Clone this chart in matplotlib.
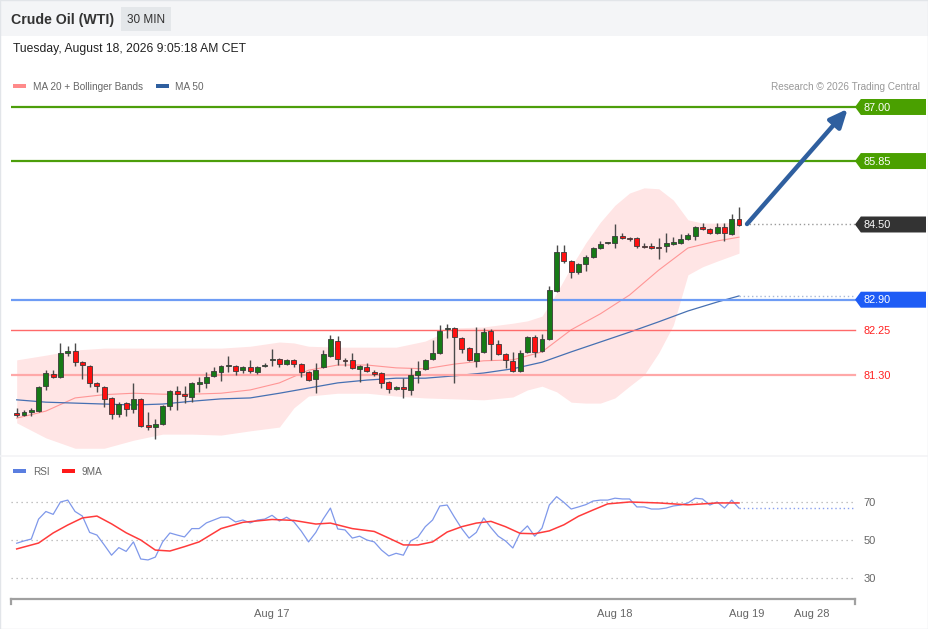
import matplotlib
matplotlib.use('Agg')
import matplotlib.pyplot as plt
from matplotlib.patches import Rectangle, Polygon

plt.rcParams['font.family'] = ['Liberation Sans', 'DejaVu Sans']

# ---- candles (30 min) ----
opens = [80.50, 80.45, 80.51, 80.53, 81.06, 81.32, 81.26, 81.77, 81.81, 81.57,
         81.49, 81.13, 81.04, 80.81, 80.47, 80.70, 80.57, 80.79, 80.23, 80.19,
         80.26, 80.64, 80.96, 80.89, 80.83, 81.11, 81.13, 81.28, 81.36, 81.50,
         81.49, 81.40, 81.47, 81.36, 81.49, 81.61, 81.64, 81.53, 81.62, 81.53,
         81.36, 81.21, 81.47, 81.70, 82.02, 81.61, 81.62, 81.43, 81.47, 81.36,
         81.34, 81.15, 81.00, 81.04, 80.98, 81.30, 81.43, 81.64, 81.77, 82.28,
         82.30, 82.09, 81.87, 81.60, 81.79, 82.23, 81.96, 81.74, 81.60, 81.38,
         81.79, 82.11, 81.81, 82.06, 83.09, 83.91, 83.72, 83.49, 83.66, 83.81,
         84.00, 84.10, 84.11, 84.26, 84.21, 84.21, 84.04, 84.04, 84.02, 84.04,
         84.09, 84.11, 84.19, 84.26, 84.45, 84.40, 84.32, 84.45, 84.30, 84.62]
highs = [80.60, 80.55, 80.60, 81.06, 81.40, 81.40, 81.98, 81.91, 81.98, 81.60,
         81.51, 81.15, 81.06, 80.83, 80.72, 80.72, 81.13, 80.81, 80.51, 80.36,
         80.66, 80.98, 81.06, 81.06, 81.15, 81.26, 81.36, 81.47, 81.51, 81.70,
         81.51, 81.49, 81.62, 81.49, 81.55, 81.85, 81.66, 81.64, 81.64, 81.55,
         81.38, 81.55, 81.83, 82.15, 82.13, 81.66, 81.77, 81.51, 81.55, 81.40,
         81.36, 81.17, 81.06, 81.23, 81.45, 81.60, 81.64, 82.04, 82.36, 82.38,
         82.32, 82.11, 81.89, 82.32, 82.30, 82.28, 82.04, 81.77, 81.79, 81.83,
         82.13, 82.15, 82.17, 83.19, 84.06, 84.06, 83.74, 83.68, 83.85, 84.02,
         84.15, 84.13, 84.51, 84.32, 84.23, 84.23, 84.11, 84.11, 84.21, 84.32,
         84.23, 84.30, 84.32, 84.47, 84.53, 84.43, 84.53, 84.53, 84.72, 84.87]
lows = [80.40, 80.43, 80.43, 80.51, 80.98, 81.23, 81.23, 81.70, 81.49, 81.21,
        81.04, 80.94, 80.62, 80.36, 80.40, 80.43, 80.49, 80.19, 80.13, 79.94,
        80.23, 80.55, 80.55, 80.70, 80.72, 80.94, 81.02, 81.26, 81.17, 81.36,
        81.30, 81.34, 81.34, 81.32, 81.47, 81.49, 81.47, 81.51, 81.47, 81.26,
        81.17, 80.91, 81.45, 81.68, 81.51, 81.49, 81.43, 81.15, 81.36, 81.28,
        81.02, 80.91, 80.98, 80.81, 80.87, 81.13, 81.40, 81.62, 81.74, 82.09,
        81.13, 81.77, 81.60, 81.47, 81.77, 81.62, 81.72, 81.45, 81.36, 81.36,
        81.77, 81.68, 81.79, 82.04, 83.06, 83.68, 83.36, 83.45, 83.51, 83.79,
        83.98, 84.09, 84.00, 84.19, 84.15, 84.00, 84.00, 83.98, 83.77, 83.91,
        84.06, 84.09, 84.17, 84.17, 84.38, 84.30, 84.30, 84.15, 84.28, 84.47]
closes = [80.45, 80.51, 80.55, 81.04, 81.34, 81.26, 81.77, 81.81, 81.57, 81.51,
          81.13, 81.06, 80.79, 80.47, 80.68, 80.57, 80.79, 80.21, 80.19, 80.26,
          80.64, 80.96, 80.89, 80.85, 81.13, 81.15, 81.26, 81.38, 81.49, 81.52,
          81.38, 81.47, 81.38, 81.47, 81.50, 81.63, 81.53, 81.62, 81.53, 81.36,
          81.19, 81.40, 81.74, 82.06, 81.64, 81.59, 81.45, 81.49, 81.38, 81.32,
          81.13, 81.00, 81.04, 81.00, 81.30, 81.38, 81.62, 81.77, 82.23, 82.30,
          82.11, 81.85, 81.62, 81.77, 82.21, 81.96, 81.74, 81.62, 81.38, 81.77,
          82.11, 81.79, 82.06, 83.11, 83.91, 83.72, 83.49, 83.66, 83.81, 84.00,
          84.09, 84.12, 84.26, 84.21, 84.20, 84.04, 84.03, 84.00, 84.01, 84.11,
          84.13, 84.19, 84.28, 84.45, 84.40, 84.32, 84.45, 84.32, 84.62, 84.49]

ma_idx = [0, 4, 8, 12, 16, 20, 24, 28, 32, 36, 40, 44, 48, 52, 56, 60, 64, 68,
          72, 76, 80, 84, 88, 92, 96, 99]
ma20 = [80.38, 80.53, 80.81, 80.88, 80.91, 80.89, 80.89, 80.91, 80.98, 81.13,
        81.40, 81.51, 81.51, 81.45, 81.43, 81.53, 81.60, 81.62, 81.79, 82.26,
        82.60, 83.00, 83.53, 84.00, 84.15, 84.23]
ma50 = [80.77, 80.72, 80.70, 80.68, 80.66, 80.68, 80.74, 80.79, 80.81, 80.91,
        81.02, 81.13, 81.19, 81.23, 81.23, 81.28, 81.34, 81.43, 81.57, 81.79,
        82.00, 82.21, 82.43, 82.66, 82.85, 82.98]

bb_idx = [0, 4, 8, 12, 16, 20, 24, 28, 32, 36, 38, 40, 44, 48, 52, 56, 60, 64,
          68, 70, 72, 74, 76, 78, 80, 82, 84, 86, 88, 90, 92, 94, 96, 99]
bb_upper = [81.62, 81.72, 81.83, 81.87, 81.87, 81.87, 81.87, 81.87, 81.91, 82.00,
            81.98, 81.91, 81.89, 81.89, 81.89, 82.02, 82.30, 82.32, 82.40, 82.45,
            82.55, 83.04, 83.60, 84.11, 84.55, 84.91, 85.17, 85.28, 85.26, 85.02,
            84.60, 84.53, 84.53, 84.55]
bb_lower = [80.28, 79.96, 79.74, 79.74, 79.91, 80.04, 80.04, 80.02, 80.11, 80.19,
            80.60, 80.85, 80.91, 80.91, 80.85, 80.81, 80.79, 80.77, 80.83, 80.98,
            81.06, 80.94, 80.72, 80.70, 80.70, 80.81, 81.06, 81.30, 81.77, 82.36,
            83.43, 83.60, 83.72, 83.89]

rsi = [48.3, 49.5, 50.5, 61, 65, 63.5, 70, 71, 65, 62.6,
       54, 52.6, 47.4, 42, 46, 44, 49, 40, 39.5, 41,
       49, 53.7, 52.6, 51.6, 56, 56, 59, 60.5, 62, 62,
       59.5, 60.5, 59, 60.5, 61, 63, 60, 62, 59.5, 54.7,
       49, 54, 61, 66.8, 55.8, 55.3, 51, 52, 50, 49,
       44.7, 41.6, 43, 42, 49.5, 51.6, 57, 60.5, 67.9, 68.4,
       62, 56, 51, 54, 61.6, 56.5, 52, 49.5, 45.8, 53.7,
       57.4, 52, 56.3, 68.4, 72.8, 69.8, 66.3, 67.4, 68.6, 70.5,
       71, 71, 72, 71.6, 71.6, 67.4, 67.4, 66.3, 66.3, 66.8,
       67.9, 68.4, 69.5, 72, 71.6, 68.4, 70, 66.8, 71, 66.8]
ma9_idx = [0, 3, 5, 7, 9, 11, 13, 15, 17, 19, 21, 23, 25, 28, 31, 35, 38, 41, 43,
           46, 49, 51, 53, 55, 57, 59, 61, 63, 65, 67, 69, 71, 73, 75, 77, 79, 81,
           84, 88, 92, 96, 99]
rsi_ma9 = [45.3, 48.4, 53.7, 57.9, 61.6, 62.6, 58.5, 53.8, 50, 44.7, 44.2, 46.5,
           49, 56, 59.3, 60.8, 60.3, 58.4, 58.9, 56, 54.5, 51, 47.4, 47.4, 49,
           54.2, 57, 58.9, 59.8, 57, 53.5, 53.3, 54.8, 58, 62.5, 65.8, 69, 70,
           69.5, 68.5, 69.5, 69.5]

# key levels
res_levels = [87.00, 85.85]
last_price = 84.50
pivot = 82.90
sup_levels = [82.25, 81.30]
target = 87.00

date_pos = [35, 82, 100.1, 109]
date_labels = ['Aug 17', 'Aug 18', 'Aug 19', 'Aug 28']
rsi_levels = [70, 50, 30]

# ---- figure ----
W, H = 929, 629
fig = plt.figure(figsize=(W / 100, H / 100), dpi=100)
fig.patch.set_facecolor('white')


def fx(px):
    return px / W


def fy(py):
    return 1 - py / H


# header strip and frame
fig.add_artist(Rectangle((0, fy(36)), 1, 1 - fy(36), transform=fig.transFigure,
                         facecolor='#f4f5f7', edgecolor='none'))
fig.add_artist(Rectangle((fx(121), fy(31)), fx(171) - fx(121), fy(7) - fy(31),
                         transform=fig.transFigure, facecolor='#e4e7ea', edgecolor='none'))
fig.add_artist(Rectangle((fx(0.5), fy(628.5)), fx(928) - fx(0.5), fy(0.5) - fy(628.5),
                         transform=fig.transFigure, facecolor='none',
                         edgecolor='#e2e5e9', lw=1))
fig.add_artist(plt.Line2D([fx(1), fx(928)], [fy(456), fy(456)], transform=fig.transFigure,
                          color='#f3f4f6', lw=1.2))

fig.text(fx(11), fy(20), 'Crude Oil (WTI)', fontsize=10.2, fontweight='bold',
         color='#333333', va='center')
fig.text(fx(146), fy(20), '30 MIN', fontsize=8.5, color='#333333', va='center', ha='center')
fig.text(fx(13), fy(49), 'Tuesday, August 18, 2026 9:05:18 AM CET', fontsize=8.7,
         color='#222222', va='center')

# legends
fig.add_artist(Rectangle((fx(13), fy(88)), fx(13) - fx(0), fy(84) - fy(88),
                         transform=fig.transFigure, facecolor='#ff8a8a', edgecolor='none'))
fig.text(fx(33), fy(87), 'MA 20 + Bollinger Bands', fontsize=7.2, color='#666666', va='center')
fig.add_artist(Rectangle((fx(156), fy(88)), fx(13) - fx(0), fy(84) - fy(88),
                         transform=fig.transFigure, facecolor='#2f5f9f', edgecolor='none'))
fig.text(fx(175), fy(87), 'MA 50', fontsize=7.2, color='#666666', va='center')
fig.text(fx(920), fy(87), 'Research \u00a9 2026 Trading Central', fontsize=7.2,
         color='#999999', va='center', ha='right')

fig.add_artist(Rectangle((fx(13), fy(473)), fx(13) - fx(0), fy(469) - fy(473),
                         transform=fig.transFigure, facecolor='#5a7ee0', edgecolor='none'))
fig.text(fx(33), fy(472), 'RSI', fontsize=7.2, color='#666666', va='center')
fig.add_artist(Rectangle((fx(62), fy(473)), fx(13) - fx(0), fy(469) - fy(473),
                         transform=fig.transFigure, facecolor='#ff1a1a', edgecolor='none'))
fig.text(fx(82), fy(472), '9MA', fontsize=7.2, color='#666666', va='center')

# ---- main price panel ----
X0, X1 = -0.78, 124.63
XE = 114.9  # right end of plotted lines
XL = 116.1  # label text x
ax = fig.add_axes([fx(11), fy(455), fx(926) - fx(11), fy(95) - fy(455)])
ax.set_xlim(X0, X1)
ax.set_ylim(79.596, 87.255)
ax.axis('off')

ax.fill_between(bb_idx, bb_lower, bb_upper, color='#ffe5e5', lw=0, zorder=1)
ax.plot(ma_idx, ma20, color='#ff9696', lw=0.8, zorder=2)
ax.plot(ma_idx, ma50, color='#4670b2', lw=0.9, zorder=2)

for lv in res_levels:
    ax.plot([X0, XE], [lv, lv], color='#4c9e0a', lw=1.6, zorder=3)
ax.plot([X0, XE], [pivot, pivot], color='#6e9cf5', lw=1.6, zorder=3)
ax.plot([X0, XE], [sup_levels[0], sup_levels[0]], color='#ff6a6a', lw=1.0, zorder=3)
ax.plot([X0, XE], [sup_levels[1], sup_levels[1]], color='#ffa8a8', lw=1.6, zorder=3)
ax.plot([99.8, XE], [last_price, last_price], color='#9a9a9a', lw=1, ls=(0, (1, 2)), zorder=3)
ax.plot([ma_idx[-1], XE], [ma50[-1], ma50[-1]], color='#a8b8d8', lw=1, ls=(0, (1, 2)), zorder=3)

# candles
idx = list(range(len(closes)))
ax.vlines(idx, lows, highs, color='#4a4a4a', lw=1, zorder=4)
bottoms = [min(o, c) for o, c in zip(opens, closes)]
heights = [max(abs(c - o), 0.02) for o, c in zip(opens, closes)]
colors = ['#167a16' if c >= o else '#ff1010' for o, c in zip(opens, closes)]
ax.bar(idx, heights, bottom=bottoms, width=0.68, color=colors, edgecolor='#3a3a3a',
       lw=0.6, zorder=5)

# target arrow
ax.annotate('', xy=(113.9, target - 0.04), xytext=(100.1, last_price + 0.01),
            arrowprops=dict(arrowstyle='-|>,head_length=0.9,head_width=0.4', lw=3.2,
                            color='#2f5f9f', shrinkA=0, shrinkB=0, mutation_scale=12),
            zorder=6)

# right-hand labels
hh = 0.17


def tag(level, face):
    ax.add_patch(Polygon([(XE, level), (115.7, level + hh), (X1, level + hh),
                          (X1, level - hh), (115.7, level - hh)], closed=True,
                         facecolor=face, edgecolor='none', zorder=6, clip_on=False))
    ax.text(XL, level - 0.015, f'{level:.2f}', color='white', fontsize=7.8, va='center',
            ha='left', zorder=7)


for lv in res_levels:
    tag(lv, '#4aa000')
tag(last_price, '#333333')
tag(pivot, '#1e5cf5')
for lv in sup_levels:
    ax.text(XL, lv - 0.015, f'{lv:.2f}', color='#ff2020', fontsize=7.8, va='center', ha='left')

# ---- RSI panel ----
ax2 = fig.add_axes([fx(11), fy(599), fx(926) - fx(11), fy(460) - fy(599)])
ax2.set_xlim(X0, X1)
ax2.set_ylim(18.95, 92.1)
for s in ['top', 'right', 'left']:
    ax2.spines[s].set_visible(False)
ax2.spines['bottom'].set_bounds(X0 + 0.05, XE)
ax2.spines['bottom'].set_color('#a0a0a0')
ax2.spines['bottom'].set_linewidth(1.6)
ax2.set_yticks([])
ax2.set_xticks(date_pos)
ax2.set_xticklabels(date_labels)
ax2.tick_params(axis='x', length=0, pad=7.5, labelsize=8, labelcolor='#666666')

for lv in rsi_levels:
    ax2.plot([X0, XE], [lv, lv], color='#b0b0b0', lw=0.9, ls=(0, (1, 3)))
    ax2.text(XL, lv - 0.4, str(lv), color='#666666', fontsize=8, va='center', ha='left')

ax2.plot(idx, rsi, color='#7f98ea', lw=0.9)
ax2.plot([idx[-1], XE], [rsi[-1], rsi[-1]], color='#8aa0ee', lw=1, ls=(0, (1, 2)))
ax2.plot(ma9_idx, rsi_ma9, color='#ff3b3b', lw=1.1)

for xe in [X0 + 0.05, XE]:
    ax2.plot([xe, xe], [18.95, 16.3], color='#a0a0a0', lw=1.6, clip_on=False)

fig.savefig('out.png', dpi=100)
